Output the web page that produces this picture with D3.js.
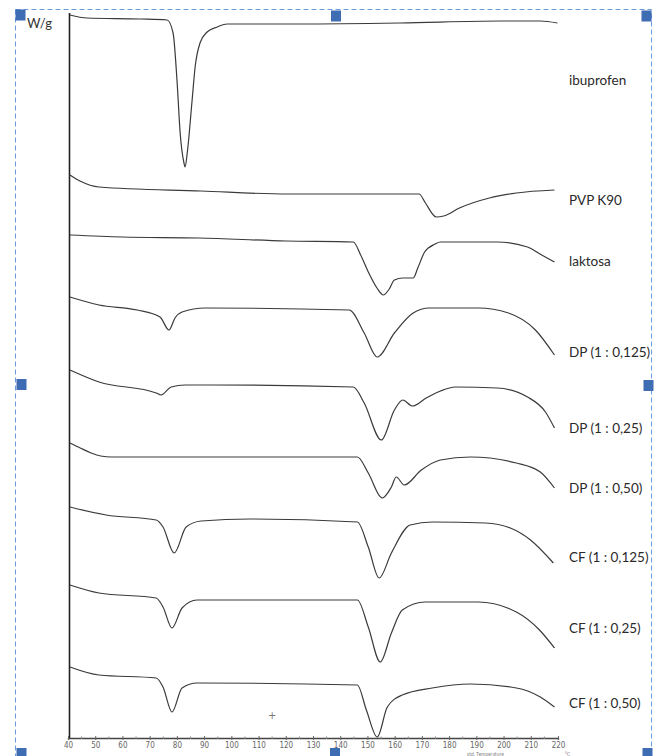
<!DOCTYPE html>
<html>
<head>
<meta charset="utf-8">
<script src="https://cdn.jsdelivr.net/npm/d3@7"></script>
<style>
  html, body { margin: 0; padding: 0; background: #fff; }
  svg { display: block; }
</style>
</head>
<body>
<svg id="chart" width="661" height="756"></svg>
<script>
// temperature axis (°C)
const tempTicks = [40, 50, 60, 70, 80, 90, 100, 110, 120, 130, 140, 150, 160, 170, 180, 190, 200, 210, 220];

const sampleNames = ['ibuprofen', 'PVP K90', 'laktosa', 'DP (1 : 0,125)', 'DP (1 : 0,25)', 'DP (1 : 0,50)',
  'CF (1 : 0,125)', 'CF (1 : 0,25)', 'CF (1 : 0,50)'];

// heat flow traces, [temperature, W/g (stacked)]
const ibuprofen = [[40.7, 72.3], [47, 72.0], [66.5, 71.9], [76.4, 71.8], [78.6, 70.5], [80.1, 65.5], [81.2, 60.5],
  [82.6, 57.5], [83.0, 57.1], [83.8, 58.5], [85.6, 63.8], [86.7, 67.1], [88.5, 69.5], [91.1, 70.6], [94.8, 71.1],
  [98.5, 71.4], [125.3, 71.4], [162, 71.5], [198.8, 71.7], [213.5, 71.7], [219.8, 71.5]];
const pvpK90 = [[40.7, 56.3], [44.4, 55.7], [51.4, 55.1], [88.9, 54.7], [120.9, 54.4], [169.0, 54.4], [171.3, 53.5],
  [175.3, 52.1], [178.0, 52.2], [183.8, 53.0], [194.8, 54.0], [204.7, 54.5], [218.7, 54.8]];
const laktosa = [[40.7, 50.3], [60, 50.1], [88, 50.0], [120, 49.7], [144.8, 49.6], [147.5, 48.3], [150.5, 46.5],
  [153.5, 45.0], [155.8, 44.3], [158, 44.9], [159.9, 45.8], [163, 46.0], [166.8, 46.0], [168.5, 47.0], [171, 48.6],
  [174.9, 49.4], [176.8, 49.6], [197.7, 49.6], [208.8, 49.1], [214, 48.3], [218.7, 47.6]];
const dp0125 = [[40.7, 44.1], [51.4, 43.3], [65.4, 42.8], [73.8, 42.1], [77.1, 40.8], [79.3, 42.0], [81.9, 42.6],
  [90.4, 43.0], [143.3, 42.8], [148.8, 40.5], [153.6, 38.1], [159.9, 40.5], [166.8, 42.5], [172.7, 43.0],
  [190.7, 43.0], [201.8, 42.5], [211.7, 40.8], [218.7, 38.3]];
const dp025 = [[40.7, 36.8], [51.4, 35.6], [72.4, 34.5], [74.2, 34.3], [77.9, 35.1], [83.0, 35.3], [93.3, 35.3],
  [144.8, 35.1], [148.8, 33.5], [155.1, 29.8], [159.9, 32.8], [163.0, 33.8], [166.5, 33.2], [171.6, 34.0],
  [176.8, 34.7], [182.3, 35.1], [197.7, 35.0], [208.8, 34.1], [215.4, 32.6], [218.7, 31.0]];
const dp050 = [[40.7, 29.5], [44.5, 29.0], [48.5, 28.5], [52, 28.2], [56, 28.1], [69.4, 28.1], [146.3, 28.1],
  [150.3, 26.5], [155.4, 24.0], [158.8, 25.1], [160.6, 26.1], [163.5, 25.3], [169.8, 26.8], [176.8, 27.8],
  [187.8, 28.1], [204.7, 27.5], [213.5, 26.6], [218.7, 25.0]];
const cf0125 = [[40.7, 23.1], [54, 22.3], [72.4, 21.8], [74.9, 21.1], [79, 18.5], [83.4, 21.1], [88.9, 21.7],
  [106.9, 21.9], [146.3, 21.6], [150.3, 19.1], [154.3, 16.0], [158.8, 18.5], [165.7, 21.3],
  [173.8, 21.6], [193.3, 21.5], [202.5, 21.0], [209.9, 19.8], [218.3, 17.5]];
const cf025 = [[40.7, 15.3], [51.4, 14.5], [72.4, 14.0], [74.9, 13.1], [78.2, 11.0], [81.9, 13.0], [87.4, 13.8],
  [146.3, 13.8], [150.3, 11.1], [154.7, 7.6], [158.8, 10.5], [162.8, 12.8], [171.2, 13.6], [190.7, 13.6],
  [204.7, 12.6], [213.2, 10.8], [218.7, 9.0]];
const cf050 = [[40.7, 7.1], [51.4, 6.3], [72.4, 6.0], [74.9, 5.1], [78.2, 2.6], [81.9, 5.0], [87.4, 5.5],
  [146.3, 5.3], [149.6, 2.8], [153.6, 0.1], [157.3, 3.1], [162.8, 4.3], [173.8, 5.0], [187.8, 5.4], [204.7, 5.0],
  [213.5, 4.1], [218.7, 3.1]];

const traces = [ibuprofen, pvpK90, laktosa, dp0125, dp025, dp050, cf0125, cf025, cf050];
// where each name sits, in W/g
const labelLevel = [65.8, 53.8, 47.7, 38.6, 31.0, 25.0, 18.1, 11.0, 3.5];

const svg = d3.select('#chart');

const x = d3.scaleLinear().domain([40, 220]).range([68, 558]);
const y = d3.scaleLinear().domain([0, 72.5]).range([738, 13]);

const labelFont = 'Lato, "Open Sans", sans-serif';

// selection frame (copied from the document view)
const frame = { x0: 15.5, y0: 9.5, x1: 651.5, y1: 752 };
svg.append('rect')
  .attr('x', frame.x0).attr('y', frame.y0)
  .attr('width', frame.x1 - frame.x0).attr('height', frame.y1 - frame.y0 + 20)
  .attr('fill', 'none')
  .attr('stroke', '#6a9ae0')
  .attr('stroke-width', 1)
  .attr('stroke-dasharray', '5,3');

const handles = [
  [frame.x0, frame.y0], [331, frame.y0 + 1], [frame.x1 - 10, frame.y0 + 1],
  [frame.x0 + 1, 379], [frame.x1 - 8, 380],
  [frame.x0 + 1, 748], [330, 748], [frame.x1 - 9, 748]
];
svg.selectAll('rect.handle')
  .data(handles)
  .enter()
  .append('rect')
  .attr('class', 'handle')
  .attr('x', d => d[0]).attr('y', d => d[1])
  .attr('width', 10).attr('height', 11)
  .attr('fill', '#3e6db3');

// axes
svg.append('line')
  .attr('x1', 69.5).attr('x2', 69.5)
  .attr('y1', y(72.5)).attr('y2', y(0) + 1)
  .attr('stroke', '#222').attr('stroke-width', 1.6);

const xAxis = d3.axisBottom(x)
  .tickValues(tempTicks)
  .tickSize(2)
  .tickPadding(2)
  .tickFormat(d3.format('d'));

const gx = svg.append('g')
  .attr('transform', `translate(0, ${y(0)})`)
  .call(xAxis);
gx.select('.domain').attr('stroke', '#444').attr('stroke-width', 1.3);
gx.selectAll('.tick line').attr('stroke', '#666').attr('y1', -2);
gx.selectAll('.tick text')
  .attr('fill', '#666')
  .style('font-family', '"DejaVu Sans Condensed", sans-serif')
  .style('font-size', '8px');

const minor = d3.range(45, 220, 10);
gx.selectAll('line.minor')
  .data(minor)
  .enter()
  .append('line')
  .attr('class', 'minor')
  .attr('x1', d => x(d)).attr('x2', d => x(d))
  .attr('y1', -1.5).attr('y2', 1)
  .attr('stroke', '#888');

svg.append('text')
  .attr('x', 27).attr('y', 28)
  .style('font-family', labelFont)
  .style('font-size', '13px')
  .attr('fill', '#333')
  .text('W/g');

// axis title, mostly clipped by the bottom edge in the original
svg.append('text')
  .attr('x', 467).attr('y', 756)
  .style('font-family', labelFont)
  .style('font-size', '5px')
  .attr('fill', '#888')
  .text('std. Temperature');
svg.append('text')
  .attr('x', 565).attr('y', 756)
  .style('font-family', labelFont)
  .style('font-size', '5px')
  .attr('fill', '#888')
  .text('°C');

// curves
const line = d3.line()
  .x(d => x(d[0]))
  .y(d => y(d[1]))
  .curve(d3.curveMonotoneX);

svg.selectAll('path.trace')
  .data(traces)
  .enter()
  .append('path')
  .attr('class', 'trace')
  .attr('d', line)
  .attr('fill', 'none')
  .attr('stroke', '#3a3a3a')
  .attr('stroke-width', 1.2);

svg.selectAll('text.name')
  .data(sampleNames)
  .enter()
  .append('text')
  .attr('class', 'name')
  .attr('x', 569)
  .attr('y', (d, i) => y(labelLevel[i]))
  .attr('dy', '0.35em')
  .style('font-family', labelFont)
  .style('font-size', '13.5px')
  .attr('fill', '#2a2a2a')
  .text(d => d);

// stray cursor mark
svg.append('text')
  .attr('x', x(115)).attr('y', y(2.3))
  .attr('text-anchor', 'middle')
  .attr('dy', '0.35em')
  .style('font-family', 'DejaVu Sans, sans-serif')
  .style('font-size', '10px')
  .attr('fill', '#777')
  .text('+');
</script>
</body>
</html>
